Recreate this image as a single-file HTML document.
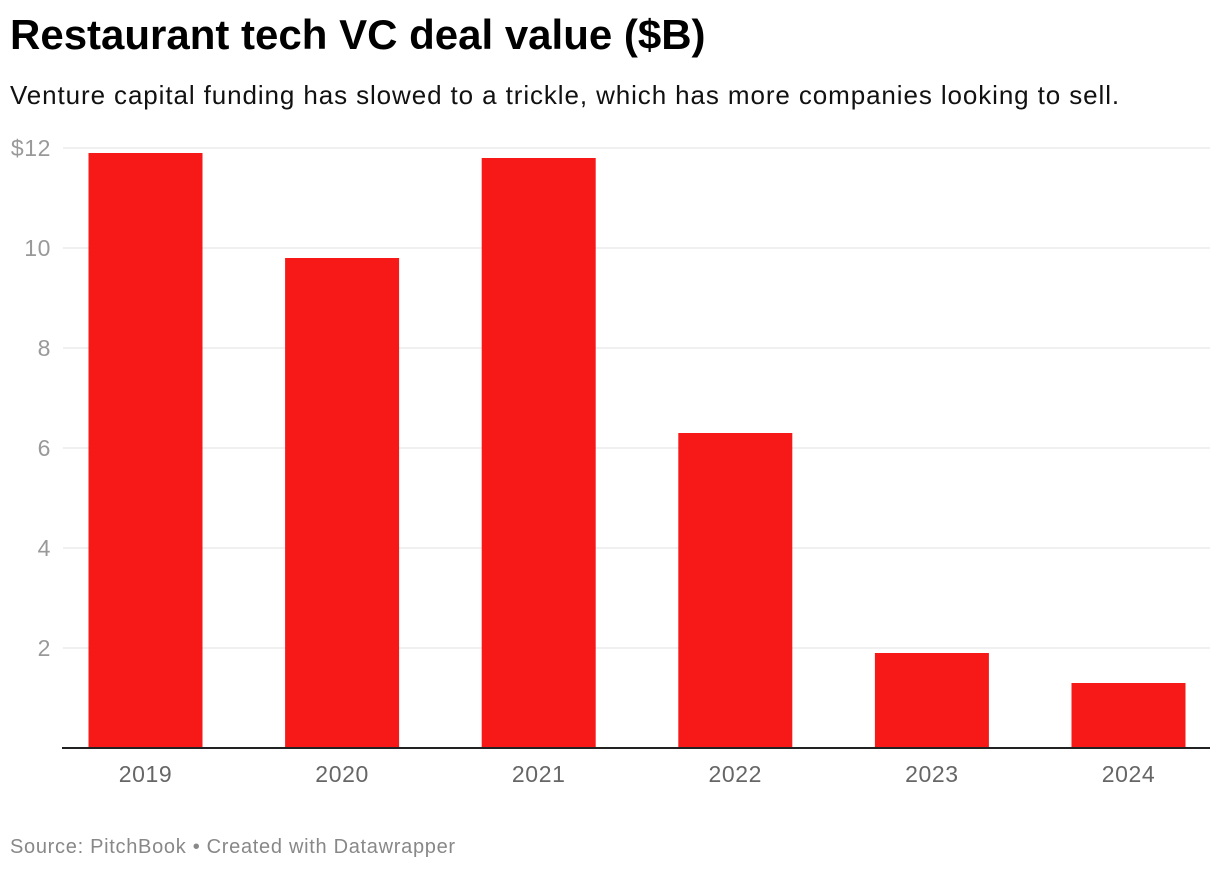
<!DOCTYPE html>
<html><head><meta charset="utf-8"><style>
body{margin:0;background:#fff;width:1220px;height:870px;overflow:hidden;font-family:"Liberation Sans",sans-serif}
#title{position:absolute;left:10px;top:14px;font-size:42px;line-height:42px;font-weight:bold;color:#000;margin:0;white-space:nowrap}
#sub{position:absolute;left:10px;top:82px;font-size:26px;line-height:26px;color:#111;letter-spacing:0.9px;white-space:nowrap}
#src{position:absolute;left:10px;top:837px;font-size:20px;line-height:20px;color:#888;letter-spacing:0.7px;white-space:nowrap}
svg{position:absolute;left:0;top:0}
</style></head><body>
<h1 id="title">Restaurant tech VC deal value ($B)</h1>
<div id="sub">Venture capital funding has slowed to a trickle, which has more companies looking to sell.</div>
<svg id="chart" width="1220" height="870"></svg>
<div id="src">Source: PitchBook • Created with Datawrapper</div>
<script>
const categories = ["2019","2020","2021","2022","2023","2024"];
const values = [11.9, 9.8, 11.8, 6.3, 1.9, 1.3];
const yTicks = [2,4,6,8,10,12];
const yTickLabels = ["2","4","6","8","10","$12"];
const svg = document.getElementById('chart');
const NS = 'http://www.w3.org/2000/svg';
const y = v => 748 - v * 50;
const xc = i => 145.5 + i * 196.6;
const bw = 114;
function mk(t, a){const e=document.createElementNS(NS,t);for(const k in a)e.setAttribute(k,a[k]);svg.appendChild(e);return e;}
yTicks.forEach((t,i)=>{
  const g = mk('line',{x1:63,x2:1210,y1:y(t),y2:y(t),stroke:'#e0e0e0','stroke-width':1});
  
  
  const l = mk('text',{x:51,y:y(t)+8,'text-anchor':'end','font-size':23,'letter-spacing':0.6,fill:'#999','font-family':'Liberation Sans, sans-serif'});
  l.textContent = yTickLabels[i];
  
  
});
values.forEach((v,i)=>{
  const r = mk('rect',{x:xc(i)-bw/2,y:y(v),width:bw,height:748-y(v),fill:'#f71818'});
  
  
  const t = mk('text',{x:xc(i),y:782,'text-anchor':'middle','font-size':23,'letter-spacing':0.6,fill:'#666','font-family':'Liberation Sans, sans-serif'});
  t.textContent = categories[i];
  
  
});
const ax = mk('line',{x1:62,x2:1210,y1:748,y2:748,stroke:'#222','stroke-width':2});


</script>
</body></html>
